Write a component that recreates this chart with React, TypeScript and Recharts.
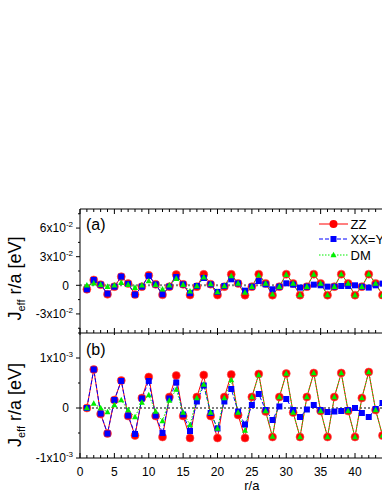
import React from 'react';
import { LineChart, Line, XAxis, YAxis, ReferenceLine } from 'recharts';

// ---------- data ----------
const rValues = [1, 2, 3, 4, 5, 6, 7, 8, 9, 10, 11, 12, 13, 14, 15, 16, 17, 18, 19, 20, 21, 22, 23, 24, 25, 26, 27, 28, 29, 30, 31, 32, 33, 34, 35, 36, 37, 38, 39, 40, 41, 42, 43, 44];

// panel (a), values in units of 1e-2 eV
const zzA = [-0.42, 0.56, 0.07, -0.94, -0.14, 0.91, 0.18, -0.97, -0.14, 1.05, 0.1, -1.0, -0.14, 1.12, 0.1, -1.02, -0.14, 1.15, 0.12, -1.02, -0.14, 1.16, 0.2, -1.03, -0.14, 1.17, 0.2, -1.03, -0.14, 1.17, 0.2, -1.03, -0.14, 1.17, 0.2, -1.03, -0.14, 1.17, 0.2, -1.03, -0.14, 1.17, 0.2, -1.03];
const xxA = [-0.42, 0.56, 0.07, -0.87, -0.14, 0.91, 0.15, -0.97, -0.14, 0.98, 0.1, -0.94, -0.14, 0.87, 0.1, -0.83, -0.07, 0.77, 0.1, -0.69, -0.07, 0.63, 0.2, -0.56, -0.14, 0.45, 0.1, -0.42, -0.14, 0.21, 0.07, -0.24, -0.14, 0.07, 0.0, -0.14, -0.14, -0.07, -0.07, 0.0, -0.14, -0.24, 0.0, 0.18];
const dmA = [0.0, 0.21, 0.07, -0.14, 0.0, 0.28, 0.07, -0.24, 0.0, 0.45, 0.07, -0.42, 0.0, 0.7, 0.07, -0.63, -0.07, 0.84, 0.14, -0.7, -0.07, 0.98, 0.2, -0.76, -0.14, 1.05, 0.2, -0.94, -0.14, 1.12, 0.2, -1.0, -0.14, 1.15, 0.2, -1.02, -0.14, 1.16, 0.2, -1.03, -0.14, 1.17, 0.2, -1.03];

// panel (b), values in units of 1e-3 eV
const zzB = [0.0, 0.77, -0.12, -0.51, 0.16, 0.55, -0.16, -0.55, 0.2, 0.62, -0.16, -0.58, 0.22, 0.65, -0.16, -0.6, 0.22, 0.66, -0.16, -0.6, 0.22, 0.67, -0.14, -0.6, 0.22, 0.68, -0.07, -0.58, 0.22, 0.69, -0.09, -0.58, 0.22, 0.7, -0.06, -0.58, 0.22, 0.7, -0.06, -0.58, 0.2, 0.72, -0.04, -0.55];
const xxB = [0.0, 0.77, -0.11, -0.51, 0.16, 0.54, -0.15, -0.52, 0.19, 0.54, -0.15, -0.5, 0.19, 0.51, -0.13, -0.46, 0.13, 0.45, -0.1, -0.41, 0.13, 0.38, -0.07, -0.33, 0.06, 0.28, -0.04, -0.24, 0.03, 0.18, -0.04, -0.18, -0.03, 0.06, -0.04, -0.08, -0.07, -0.06, -0.04, 0.0, -0.1, -0.18, -0.02, 0.1];
const dmB = [0.0, 0.09, 0.0, -0.08, 0.06, 0.16, -0.04, -0.18, 0.11, 0.26, -0.07, -0.26, 0.15, 0.37, -0.09, -0.34, 0.2, 0.47, -0.09, -0.41, 0.2, 0.56, -0.09, -0.45, 0.22, 0.66, -0.06, -0.57, 0.22, 0.69, -0.09, -0.58, 0.22, 0.7, -0.06, -0.58, 0.22, 0.7, -0.06, -0.58, 0.2, 0.72, -0.04, -0.55];

const seriesNames = ['ZZ', 'XX=YY', 'DM'];
const xAxisTitle = 'r/a';
// labels of the visible major x ticks (0..40); 45 and 50 fall outside the cropped view
const xMajorLabels = ['0', '5', '10', '15', '20', '25', '30', '35', '40'];
const yMajorA = [
  { v: -0.03, m: '-3', e: '-2' },
  { v: 0, m: '0', e: '' },
  { v: 0.03, m: '3', e: '-2' },
  { v: 0.06, m: '6', e: '-2' },
];
const yMajorB = [
  { v: -0.001, m: '-1', e: '-3' },
  { v: 0, m: '0', e: '' },
  { v: 0.001, m: '1', e: '-3' },
];
const yTicksA = [-0.045, -0.03, -0.015, 0, 0.015, 0.03, 0.045, 0.06, 0.075];
const yTicksB = [-0.001, -0.0005, 0, 0.0005, 0.001, 0.0015];
const xTicks = Array.from({ length: 51 }, (_, i) => i);

const dataA = rValues.map((r, i) => ({ r, zz: zzA[i] * 1e-2, xx: xxA[i] * 1e-2, dm: dmA[i] * 1e-2 }));
const dataB = rValues.map((r, i) => ({ r, zz: zzB[i] * 1e-3, xx: xxB[i] * 1e-3, dm: dmB[i] * 1e-3 }));

// ---------- styles ----------
const FONT = 'Liberation Sans, Arial, sans-serif';
const RED = '#FF0000';
const BLUE = '#0000FF';
const GREEN = '#00EE00';
const CHART_W = 430;
const MARGIN_RIGHT = 6.25;
const YAXIS_W = 80;

// ---------- markers ----------
const RedDot = (p: any) => (p.cx == null ? <g key={`r${p.index}`} /> :
  <circle key={`r${p.index}`} cx={p.cx} cy={p.cy} r={4} fill={RED} stroke="#ff5050" strokeWidth={0.6} />);
const BlueDot = (p: any) => (p.cx == null ? <g key={`b${p.index}`} /> :
  <rect key={`b${p.index}`} x={p.cx - 3} y={p.cy - 3} width={6} height={6} fill={BLUE} />);
const GreenDot = (p: any) => (p.cx == null ? <g key={`g${p.index}`} /> :
  <polygon key={`g${p.index}`} points={`${p.cx},${p.cy - 3.3} ${p.cx - 3},${p.cy + 2.3} ${p.cx + 3},${p.cy + 2.3}`} fill={GREEN} />);

// ---------- ticks ----------
const isMajorX = (v: number) => v % 5 === 0;

const YTick = (props: any) => {
  const { x, y, payload, majors } = props;
  const v = payload.value;
  const maj = majors.find((m: any) => Math.abs(m.v - v) < 1e-9);
  return (
    <g>
      <line x1={x - (maj ? 4 : 2)} x2={x} y1={y} y2={y} stroke="#000" strokeWidth={1} />
      {maj && (
        <text x={maj.e ? x - 7 : x - 11} y={y + 4.3} textAnchor="end" fontSize={12} fontFamily={FONT} fill="#000">
          {maj.e ? (
            <>
              <tspan>{maj.m}x10</tspan>
              <tspan dy={-5} fontSize={8}>{maj.e}</tspan>
            </>
          ) : maj.m}
        </text>
      )}
    </g>
  );
};

const TopTick = (props: any) => {
  const { x, y, payload } = props;
  const len = isMajorX(payload.value) ? 5 : 3;
  return <line x1={x} x2={x} y1={y} y2={y + len} stroke="#000" strokeWidth={1} />;
};

const MidTick = (props: any) => {
  const { x, y, payload } = props;
  const maj = isMajorX(payload.value);
  return <line x1={x} x2={x} y1={y - (maj ? 5 : 3)} y2={y + (maj ? 4 : 0)} stroke="#000" strokeWidth={1} />;
};

const BottomTick = (props: any) => {
  const { x, y, payload } = props;
  const maj = isMajorX(payload.value);
  const label = maj ? xMajorLabels[payload.value / 5] : undefined;
  return (
    <g>
      <line x1={x} x2={x} y1={y - (maj ? 5 : 3)} y2={y} stroke="#000" strokeWidth={1} />
      {label != null && (
        <text x={x} y={y + 17.5} textAnchor="middle" fontSize={12} fontFamily={FONT} fill="#000">{label}</text>
      )}
    </g>
  );
};

const XTitle = (props: any) => {
  const vb = props.viewBox || {};
  return (
    <text x={vb.x + vb.width / 2} y={vb.y + 31.5} textAnchor="middle" fontSize={13} fontFamily={FONT} fill="#000">
      {xAxisTitle}
    </text>
  );
};

const axisLineStyle = { stroke: '#000', strokeWidth: 1 };

export default function App() {
  return (
    <div style={{ position: 'absolute', left: 0, top: 0, width: 382, height: 494, overflow: 'hidden', background: '#fff' }}>
      {/* panel (a) */}
      <div style={{ position: 'absolute', left: 0, top: 0 }}>
        <LineChart width={CHART_W} height={335} data={dataA} margin={{ top: 208, right: MARGIN_RIGHT, bottom: 1, left: 0 }}>
          <XAxis dataKey="r" type="number" domain={[0, 50]} ticks={xTicks} interval={0} height={1}
            axisLine={axisLineStyle} tickLine={false} tickSize={0} tickMargin={0} tick={<MidTick />} allowDataOverflow />
          <XAxis xAxisId="top" orientation="top" dataKey="r" type="number" domain={[0, 50]} ticks={xTicks} interval={0} height={1}
            axisLine={axisLineStyle} tickLine={false} tickSize={0} tickMargin={0} tick={<TopTick />} allowDataOverflow />
          <YAxis type="number" domain={[-0.05, 0.08]} ticks={yTicksA} interval={0} width={YAXIS_W}
            axisLine={axisLineStyle} tickLine={false} tickSize={0} tickMargin={0} tick={<YTick majors={yMajorA} />} allowDataOverflow />
          <ReferenceLine y={0} stroke="#808080" strokeWidth={2} strokeDasharray="2 2" />
          <Line dataKey="zz" name={seriesNames[0]} stroke={RED} strokeWidth={1} dot={RedDot} isAnimationActive={false} />
          <Line dataKey="xx" name={seriesNames[1]} stroke={BLUE} strokeWidth={1} strokeDasharray="4 2" dot={BlueDot} isAnimationActive={false} />
          <Line dataKey="dm" name={seriesNames[2]} stroke={GREEN} strokeWidth={1} strokeDasharray="1.5 1.5" dot={GreenDot} isAnimationActive={false} />
        </LineChart>
      </div>
      {/* panel (b) */}
      <div style={{ position: 'absolute', left: 0, top: 0 }}>
        <LineChart width={CHART_W} height={494} data={dataB} margin={{ top: 333, right: MARGIN_RIGHT, bottom: 35, left: 0 }}>
          <XAxis dataKey="r" type="number" domain={[0, 50]} ticks={xTicks} interval={0} height={1}
            axisLine={axisLineStyle} tickLine={false} tickSize={0} tickMargin={0} tick={<BottomTick />} allowDataOverflow
            label={<XTitle />} />
          <YAxis type="number" domain={[-0.001, 0.0015]} ticks={yTicksB} interval={0} width={YAXIS_W}
            axisLine={axisLineStyle} tickLine={false} tickSize={0} tickMargin={0} tick={<YTick majors={yMajorB} />} allowDataOverflow />
          <ReferenceLine y={0} stroke="#000" strokeWidth={1} strokeDasharray="2 2" />
          <Line dataKey="zz" name={seriesNames[0]} stroke={RED} strokeWidth={1} dot={RedDot} isAnimationActive={false} />
          <Line dataKey="xx" name={seriesNames[1]} stroke={BLUE} strokeWidth={1} strokeDasharray="4 2" dot={BlueDot} isAnimationActive={false} />
          <Line dataKey="dm" name={seriesNames[2]} stroke={GREEN} strokeWidth={1} strokeDasharray="1.5 1.5" dot={GreenDot} isAnimationActive={false} />
        </LineChart>
      </div>
      {/* annotations: axis titles, panel letters, legend */}
      <svg width={382} height={494} style={{ position: 'absolute', left: 0, top: 0, pointerEvents: 'none' }}>
        <g fontFamily={FONT} fill="#000">
          {[278.5, 405].map((cy, i) => (
            <text key={i} transform={`translate(21,${cy}) rotate(-90)`} textAnchor="middle" fontSize={18}>
              <tspan>J</tspan>
              <tspan dy={4} fontSize={11}>eff</tspan>
              <tspan dy={-4}> r/a [eV]</tspan>
            </text>
          ))}
          <text x={86} y={229.5} fontSize={16}>(a)</text>
          <text x={86} y={354.5} fontSize={16}>(b)</text>
          {/* legend */}
          <g>
            <line x1={319} x2={348} y1={224} y2={224} stroke={RED} strokeWidth={1} />
            <circle cx={333.5} cy={224} r={4} fill={RED} />
            <text x={350.5} y={228.5} fontSize={13}>{seriesNames[0]}</text>
            <line x1={319} x2={348} y1={239} y2={239} stroke={BLUE} strokeWidth={1} strokeDasharray="4 2" />
            <rect x={330.5} y={236} width={6} height={6} fill={BLUE} />
            <text x={350.5} y={243.5} fontSize={13}>{seriesNames[1]}</text>
            <line x1={319} x2={348} y1={255} y2={255} stroke={GREEN} strokeWidth={1} strokeDasharray="1.5 1.5" />
            <polygon points="333.5,251.7 330.5,257.3 336.5,257.3" fill={GREEN} />
            <text x={350.5} y={259.5} fontSize={13}>{seriesNames[2]}</text>
          </g>
        </g>
      </svg>
    </div>
  );
}
